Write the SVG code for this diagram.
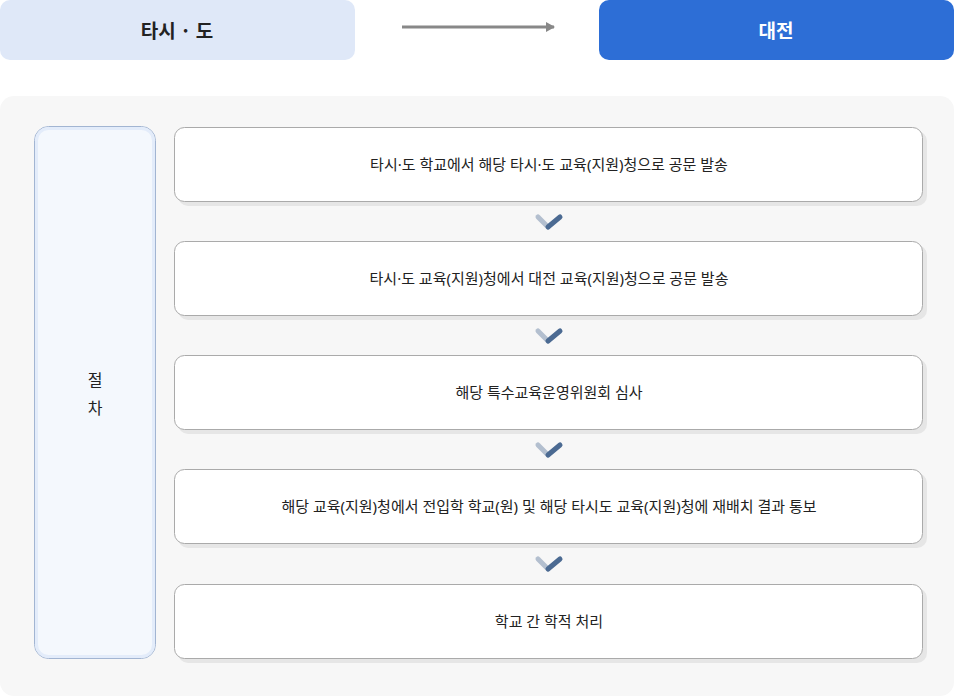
<svg xmlns="http://www.w3.org/2000/svg" width="954" height="696" viewBox="0 0 954 696">
<style>
.t{font-family:"Noto Sans CJK KR","Noto Sans",sans-serif;}
.s{font-family:"Noto Sans","Noto Sans CJK KR",sans-serif;}
.step{fill:#fff;stroke:#aaaaaa;stroke-width:1;}
.shadow{fill:#e6e6e6;}
.st{font-size:15px;fill:#222;text-anchor:middle;}
.cl{stroke:#b3bfcf;stroke-width:5;stroke-linecap:round;fill:none;}
.cr{stroke:#4b6a92;stroke-width:5;stroke-linecap:round;fill:none;}
</style>
<defs>
<marker id="ah" markerWidth="10" markerHeight="10" refX="8" refY="5" orient="auto" markerUnits="userSpaceOnUse">
<path d="M0,0 L9,5 L0,10 Z" fill="#888"/>
</marker>
</defs>
<g id="header-left">
<rect x="0" y="0" width="355" height="60" rx="10" fill="#dfe8f8"/>
<text class="t" x="177" y="38" font-size="19" font-weight="700" fill="#222" text-anchor="middle">타시 · 도</text>
</g>
<g id="header-right">
<rect x="599" y="0" width="355" height="60" rx="10" fill="#2d6ed6"/>
<text class="t" x="776" y="38" font-size="19" font-weight="700" fill="#fff" text-anchor="middle">대전</text>
</g>
<g id="panel">
<rect x="0" y="96" width="954" height="600" rx="14" fill="#f7f7f7"/>
</g>
<g id="label">
<rect x="34.5" y="126.5" width="121" height="532" rx="14" fill="#f4f8fd" stroke="#a2b5d2" stroke-width="1"/>
<rect x="36.5" y="128.5" width="117" height="528" rx="12" fill="none" stroke="#e3ecfa" stroke-width="3"/>
<text class="t" x="95" y="386" font-size="16" fill="#222" text-anchor="middle">절</text>
<text class="t" x="95" y="414" font-size="16" fill="#222" text-anchor="middle">차</text>
</g>
<g id="step1">
<rect class="shadow" x="178" y="131" width="749" height="75" rx="10"/>
<rect class="step" x="174.5" y="127.5" width="748" height="74" rx="10"/>
<text class="s st" x="549" y="169.5">타시·도 학교에서 해당 타시·도 교육(지원)청으로 공문 발송</text>
</g>
<g id="step2">
<rect class="shadow" x="178" y="245" width="749" height="75" rx="10"/>
<rect class="step" x="174.5" y="241.5" width="748" height="74" rx="10"/>
<text class="s st" x="549" y="283.5">타시·도 교육(지원)청에서 대전 교육(지원)청으로 공문 발송</text>
</g>
<g id="step3">
<rect class="shadow" x="178" y="359" width="749" height="75" rx="10"/>
<rect class="step" x="174.5" y="355.5" width="748" height="74" rx="10"/>
<text class="s st" x="549" y="397.5">해당 특수교육운영위원회 심사</text>
</g>
<g id="step4">
<rect class="shadow" x="178" y="473" width="749" height="75" rx="10"/>
<rect class="step" x="174.5" y="469.5" width="748" height="74" rx="10"/>
<text class="s st" x="549" y="511.5">해당 교육(지원)청에서 전입학 학교(원) 및 해당 타시도 교육(지원)청에 재배치 결과 통보</text>
</g>
<g id="step5">
<rect class="shadow" x="178" y="588" width="749" height="75" rx="10"/>
<rect class="step" x="174.5" y="584.5" width="748" height="74" rx="10"/>
<text class="s st" x="549" y="626.5">학교 간 학적 처리</text>
</g>
<g id="connectors">
<line x1="402" y1="27" x2="554" y2="27" stroke="#888" stroke-width="3" marker-end="url(#ah)"/>
<path class="cl" d="M538,217 L548,227"/><path class="cr" d="M548,227 L560,217"/>
<path class="cl" d="M538,331 L548,341"/><path class="cr" d="M548,341 L560,331"/>
<path class="cl" d="M538,445 L548,455"/><path class="cr" d="M548,455 L560,445"/>
<path class="cl" d="M538,559 L548,569"/><path class="cr" d="M548,569 L560,559"/>
</g>
</svg>
